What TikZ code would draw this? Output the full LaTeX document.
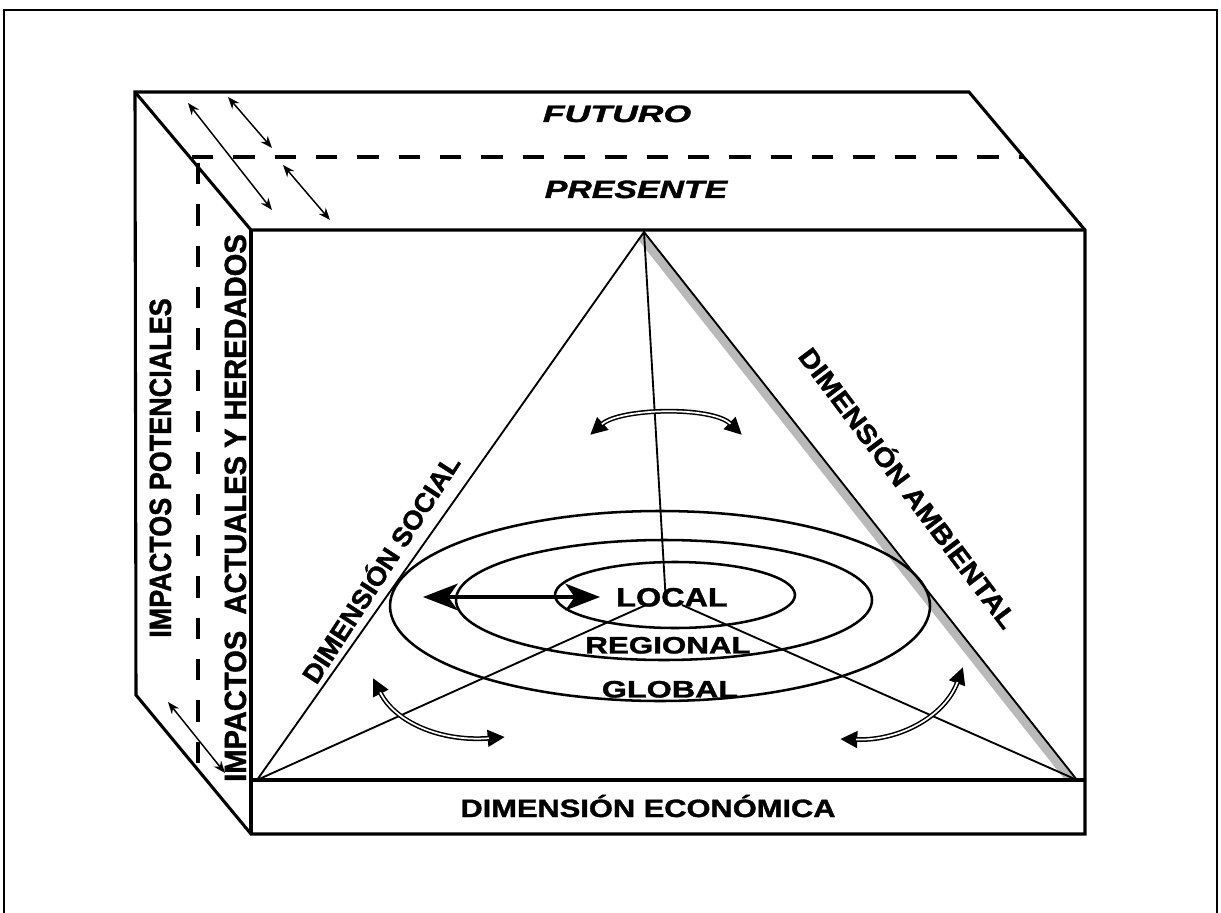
\documentclass[tikz,border=0pt]{standalone}
\usepackage{fontspec}
\setmainfont{Liberation Sans}
\newfontface\hvb{Liberation Sans Bold}[FakeBold=1.3]
\newfontface\hvbi{Liberation Sans Bold Italic}[FakeBold=1.3]
\usetikzlibrary{arrows.meta}
\newcommand{\lab}[3]{{\fontsize{#1}{#1}\hvb\scalebox{#2}[1]{#3}}}
\newcommand{\labi}[3]{{\fontsize{#1}{#1}\hvbi\scalebox{#2}[1]{#3}}}
\begin{document}
\begin{tikzpicture}[x=0.75pt,y=-0.75pt,
  edge/.style={line width=2.3pt, line join=miter},
  tri/.style={line width=1.4pt},
  dsh/.style={line width=2.3pt, dash pattern=on 16pt off 15pt},
  ell/.style={line width=1.9pt},
  thinarr/.style={line width=1.1pt, {Stealth[length=9pt,width=7pt]}-{Stealth[length=9pt,width=7pt]}},
  capht/.style={inner sep=0pt, text height=#1, text depth=0pt},
  curveblack/.style={line width=3.6pt, {Triangle[length=13pt,width=12pt]}-{Triangle[length=13pt,width=12pt]}},
  curvewhite/.style={white, line width=1.3pt, shorten <=12pt, shorten >=12pt}
]
\useasboundingbox (0,0) rectangle (1221,913);
% outer frame
\draw[line width=1.1pt] (4,913) -- (4,10) -- (1217,10) -- (1217,913);
% box corners
\coordinate (BTL) at (135,92);
\coordinate (BTR) at (969,92);
\coordinate (FTL) at (251,230);
\coordinate (FTR) at (1085,230);
\coordinate (FBL) at (251,834);
\coordinate (FBR) at (1085,834);
\coordinate (BBL) at (136,695);
\coordinate (SL) at (251,780);
\coordinate (SR) at (1085,780);
% triangle
\coordinate (A) at (644,232);
\coordinate (L) at (257,780);
\coordinate (R) at (1077,780);
\coordinate (CA) at (666,603);
\coordinate (CL) at (646,605);
\coordinate (CR) at (682,605);
% shading of right edge
\begin{scope}
\clip (A) -- (L) -- (R) -- cycle;
\draw[gray!55, line width=14pt] (A) -- (R);
\end{scope}
\draw[tri] (L) -- (A) -- (R);
\draw[tri] (A) -- (CA);
\draw[tri] (L) -- (CL);
\draw[tri] (R) -- (CR);
% box
\draw[edge] (BBL) -- (BTL) -- (BTR) -- (FTR) -- (FBR) -- (FBL) -- cycle;
\draw[edge] (BTL) -- (FTL) -- (FTR);
\draw[edge] (FTL) -- (FBL);
\draw[edge] (SL) -- (SR);
% dashed division
\coordinate (DH1) at (192,157);
\coordinate (DH2) at (1024,157);
\coordinate (DV1) at (198,163);
\coordinate (DV2) at (198,770);
\draw[dsh] (DH1) -- (DH2);
\draw[dsh] (DV1) -- (DV2);
% thin double arrows
\coordinate (a1) at (188,103); \coordinate (a2) at (272,210);
\coordinate (b1) at (228,97);  \coordinate (b2) at (272,148);
\coordinate (c1) at (283,165); \coordinate (c2) at (330,220);
\coordinate (d1) at (168,702); \coordinate (d2) at (225,773);
\draw[thinarr] (a1) -- (a2);
\draw[thinarr] (b1) -- (b2);
\draw[thinarr] (c1) -- (c2);
\draw[thinarr] (d1) -- (d2);
% ellipses
\draw[ell] (660,606) ellipse [x radius=270, y radius=95];
\draw[ell] (664,600) ellipse [x radius=208, y radius=60];
\draw[ell] (675,595) ellipse [x radius=120, y radius=33];
% thick horizontal arrow
\coordinate (h1) at (423,597); \coordinate (h2) at (600,597);
\draw[line width=2.6pt, {Stealth[length=26pt,width=20pt,inset=7pt]}-{Stealth[length=26pt,width=20pt,inset=7pt]}] (h1) -- (h2);
% curved double arrows
\coordinate (t1) at (590,435); \coordinate (t2) at (742,435);
\coordinate (l1) at (373,678); \coordinate (l2) at (505,737);
\coordinate (r1) at (963,667); \coordinate (r2) at (840,739);
\draw[curveblack] (t1) .. controls (620,408) and (712,406) .. (t2);
\draw[curvewhite] (t1) .. controls (620,408) and (712,406) .. (t2);
\draw[curveblack] (l1) .. controls (395,722) and (440,742) .. (l2);
\draw[curvewhite] (l1) .. controls (395,722) and (440,742) .. (l2);
\draw[curveblack] (r1) .. controls (945,716) and (900,741) .. (r2);
\draw[curvewhite] (r1) .. controls (945,716) and (900,741) .. (r2);
% labels
\node[capht=12.75pt] (futuro) at (617,113.5) {\labi{17.8pt}{1.5}{FUTURO}};
\node[capht=13.5pt] (presente) at (636,189) {\labi{18.8pt}{1.35}{PRESENTE}};
\node[capht=16.5pt, rotate=90] (pot) at (160,468) {\lab{23pt}{0.88}{IMPACTOS POTENCIALES}};
\node[capht=16.5pt, rotate=90] (act) at (235,508) {\lab{23pt}{0.95}{IMPACTOS\ \ ACTUALES Y HEREDADOS}};
\node[capht=14.2pt, rotate=57] (soc) at (381,569) {\lab{19.9pt}{1.03}{DIMENSIÓN SOCIAL}};
\node[capht=14.2pt, rotate=-53] (amb) at (908,488) {\lab{19.9pt}{1.1}{DIMENSIÓN AMBIENTAL}};
\node[capht=14.2pt] (local) at (672,597) {\lab{19.9pt}{1.22}{LOCAL}};
\node[capht=12.7pt] (regional) at (668,645) {\lab{17.8pt}{1.32}{REGIONAL}};
\node[capht=12.7pt] (global) at (670,689) {\lab{17.8pt}{1.36}{GLOBAL}};
\node[capht=13.5pt] (eco) at (648,808) {\lab{18.8pt}{1.23}{DIMENSIÓN ECONÓMICA}};
\end{tikzpicture}
\end{document}
